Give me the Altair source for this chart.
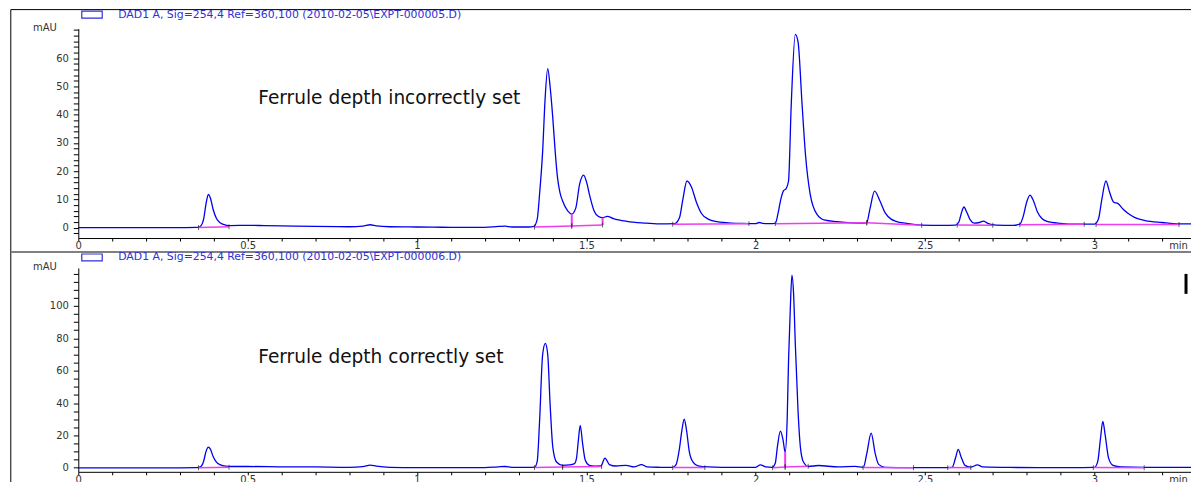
import altair as alt
import pandas as pd

HEADER_TOP = "DAD1 A, Sig=254,4 Ref=360,100 (2010-02-05\\EXPT-000005.D)"
HEADER_BOT = "DAD1 A, Sig=254,4 Ref=360,100 (2010-02-05\\EXPT-000006.D)"
NOTE_TOP = "Ferrule depth incorrectly set"
NOTE_BOT = "Ferrule depth correctly set"
Y_TITLE = "mAU"
X_TITLE = "min"

# ---- top chromatogram (ferrule depth incorrectly set) ----
TOP_T = [0.00, 0.10, 0.20, 0.30, 0.35, 0.36, 0.370, 0.378, 0.384, 0.390, 0.398, 0.408, 0.420, 0.435,
         0.45, 0.50, 0.55, 0.60, 0.70, 0.80, 0.84, 0.862, 0.88, 0.92, 1.00, 1.10, 1.20, 1.24, 1.26, 1.28,
         1.33, 1.345, 1.355, 1.362, 1.371, 1.378, 1.386, 1.393, 1.401, 1.408, 1.415, 1.422, 1.430, 1.445,
         1.457, 1.469, 1.480, 1.492, 1.501, 1.509, 1.523, 1.535, 1.548, 1.562, 1.58, 1.62, 1.67, 1.715,
         1.76, 1.775, 1.785, 1.797, 1.81, 1.825, 1.84, 1.86, 1.88, 1.92, 1.96, 2.00, 2.01, 2.02, 2.04,
         2.058, 2.066, 2.073, 2.082, 2.090, 2.097, 2.105, 2.117, 2.125, 2.137, 2.147, 2.161, 2.181, 2.205,
         2.24, 2.284, 2.32, 2.328, 2.338, 2.351, 2.367, 2.382, 2.40, 2.412, 2.45, 2.49, 2.55, 2.59, 2.600,
         2.607, 2.615, 2.623, 2.633, 2.645, 2.66, 2.672, 2.685, 2.71, 2.76, 2.78, 2.79, 2.800, 2.810, 2.820,
         2.832, 2.845, 2.86, 2.90, 2.95, 3.00, 3.012, 3.022, 3.034, 3.045, 3.057, 3.07, 3.085, 3.10, 3.12,
         3.15, 3.20, 3.25, 3.30]
TOP_V = [0.0, 0.0, 0.0, 0.0, 0.05, 0.4, 3.0, 9.0, 11.8, 10.5, 6.5, 3.2, 1.6, 0.9,
         0.7, 0.8, 0.7, 0.6, 0.4, 0.3, 0.5, 1.0, 0.6, 0.3, 0.2, 0.1, 0.1, 0.4, 0.5, 0.2,
         0.2, 0.4, 3.0, 12.0, 27.0, 45.0, 56.3, 50.0, 38.8, 27.0, 17.6, 12.5, 9.4, 5.9,
         4.8, 7.0, 15.3, 18.6, 16.0, 11.8, 5.9, 4.0, 3.5, 4.0, 3.2, 2.2, 1.6, 1.3,
         1.4, 3.5, 10.0, 16.5, 14.5, 9.0, 5.0, 3.0, 2.2, 1.7, 1.5, 1.4, 1.8, 1.5, 1.4,
         1.5, 5.0, 9.4, 13.0, 13.8, 16.5, 43.6, 68.5, 65.9, 43.6, 25.9, 11.8, 4.7, 2.6,
         2.1, 1.7, 1.6, 1.8, 7.0, 12.9, 9.4, 5.3, 3.0, 2.3, 1.4, 0.9, 0.8, 0.9, 2.0,
         5.0, 7.3, 5.5, 2.8, 1.6, 1.8, 2.3, 1.5, 0.9, 0.8, 1.2, 4.0, 9.0, 11.5, 9.5,
         5.5, 3.2, 2.2, 1.5, 1.2, 1.2, 3.0, 10.0, 16.5, 12.5, 9.0, 8.5, 6.5, 5.0, 3.5,
         2.5, 1.8, 1.3, 1.3]
TOP_SEG_T1 = [0.355, 1.347, 1.457, 1.755, 2.058, 2.328, 2.595, 2.78, 3.005]
TOP_SEG_V1 = [0.0, 0.2, 0.6, 1.2, 1.4, 1.7, 0.9, 1.0, 1.1]
TOP_SEG_T2 = [0.445, 1.457, 1.548, 1.98, 2.328, 2.49, 2.70, 2.97, 3.25]
TOP_SEG_V2 = [0.3, 0.6, 0.9, 1.4, 1.7, 0.8, 0.8, 1.2, 1.1]
TOP_DROP_T = [1.457, 1.548]
TOP_DROP_V1 = [4.8, 3.5]
TOP_DROP_V2 = [0.6, 0.9]

# ---- bottom chromatogram (ferrule depth correctly set) ----
BOT_T = [0.00, 0.10, 0.20, 0.30, 0.35, 0.362, 0.370, 0.377, 0.384, 0.390, 0.398, 0.408, 0.42, 0.435,
         0.45, 0.50, 0.60, 0.70, 0.80, 0.84, 0.862, 0.88, 0.92, 1.00, 1.10, 1.20, 1.24, 1.26, 1.28, 1.33,
         1.347, 1.355, 1.362, 1.371, 1.379, 1.386, 1.393, 1.401, 1.412, 1.430, 1.45, 1.465, 1.471, 1.476,
         1.482, 1.489, 1.497, 1.509, 1.525, 1.543, 1.555, 1.568, 1.587, 1.617, 1.641, 1.663, 1.680, 1.72,
         1.754, 1.765, 1.775, 1.782, 1.789, 1.796, 1.804, 1.815, 1.83, 1.86, 1.90, 1.95, 2.00, 2.014, 2.03,
         2.048, 2.058, 2.064, 2.073, 2.081, 2.087, 2.093, 2.097, 2.102, 2.107, 2.112, 2.117, 2.125, 2.132,
         2.141, 2.156, 2.185, 2.244, 2.293, 2.318, 2.328, 2.341, 2.353, 2.363, 2.382, 2.45, 2.55, 2.58,
         2.59, 2.598, 2.606, 2.618, 2.635, 2.655, 2.67, 2.75, 2.90, 3.00, 3.01, 3.018, 3.025, 3.032, 3.042,
         3.055, 3.08, 3.15, 3.30]
BOT_V = [0.0, 0.0, 0.0, 0.0, 0.1, 0.8, 4.0, 10.0, 12.8, 11.5, 7.0, 3.5, 1.8, 1.0,
         0.8, 0.8, 0.6, 0.5, 0.3, 0.7, 1.6, 1.0, 0.3, 0.1, 0.1, 0.1, 0.6, 0.8, 0.3, 0.2,
         0.4, 4.0, 29.0, 70.0, 76.9, 70.0, 39.5, 12.8, 3.6, 1.5, 1.8, 2.6, 6.0, 16.0,
         26.2, 14.9, 4.6, 1.5, 1.0, 1.1, 6.0, 2.0, 1.1, 1.5, 0.5, 2.0, 0.5, 0.3,
         0.2, 2.0, 12.0, 23.0, 30.0, 23.0, 10.0, 3.5, 1.2, 0.5, 0.3, 0.3, 0.3, 1.8, 0.5,
         0.2, 3.0, 12.8, 22.7, 17.0, 9.7, 30.0, 66.0, 97.0, 119.0, 107.0, 76.5, 35.4, 12.8,
         3.6, 0.8, 1.4, 0.5, 0.9, 0.3, 8.7, 21.4, 8.7, 2.1, 0.3, 0.1, 0.1, 0.3,
         6.0, 11.4, 7.0, 1.5, 0.4, 1.8, 0.5, 0.2, 0.1, 0.2, 4.0, 18.0, 28.7, 20.0, 6.0,
         1.5, 0.5, 0.2, 0.2]
BOT_SEG_T1 = [0.355, 1.347, 1.430, 1.755, 2.050, 2.087, 2.317, 2.567, 2.997]
BOT_SEG_V1 = [0.0, 0.1, 0.5, 0.1, 0.0, 0.5, 0.1, 0.1, 0.1]
BOT_SEG_T2 = [0.445, 1.430, 1.545, 1.850, 2.087, 2.155, 2.466, 2.635, 3.147]
BOT_SEG_V2 = [0.3, 0.5, 0.8, 0.1, 0.5, 0.9, 0.0, 0.1, 0.0]
BOT_DROP_T = [2.087]
BOT_DROP_V1 = [9.7]
BOT_DROP_V2 = [0.5]

X_TICKS = [0, 0.1, 0.2, 0.3, 0.4, 0.5, 0.6, 0.7, 0.8, 0.9, 1, 1.1, 1.2, 1.3, 1.4, 1.5, 1.6, 1.7,
           1.8, 1.9, 2, 2.1, 2.2, 2.3, 2.4, 2.5, 2.6, 2.7, 2.8, 2.9, 3, 3.1, 3.2]
TOP_Y_TICKS = list(range(-2, 71, 2))
BOT_Y_TICKS = list(range(0, 121, 5))

W = 1121
H_TOP = 210
BOT_YDOM = [-2.5, 123.5]
H_BOT = (BOT_YDOM[1] - BOT_YDOM[0]) * 1.623
SPACING = 30
TRACE = "#0000ee"
MAGENTA = "#f03cf0"
HEAD_BLUE = "#3030d8"
FONT = "DejaVu Sans"


def panel(t, v, s_t1, s_v1, s_t2, s_v2, d_t, d_v1, d_v2, ydom, yticks, ymajor, ymax_label,
          header, note, header_y, note_y, height, extra_layers):
    x_axis = alt.Axis(values=X_TICKS, tickSize=3, labelPadding=0, labelFlush=False, labelOverlap=False,
                      labelExpr="abs(datum.value*2 - round(datum.value*2)) < 0.001 ? format(datum.value, '~g') : ''",
                      title=X_TITLE, titleX=1103, titleY=8, titleAlign="center", titleBaseline="middle",
                      titleFontWeight="normal", titleFontSize=10, titleColor="#333", grid=False)
    y_axis = alt.Axis(values=yticks, tickSize=5, labelPadding=5, labelOverlap=False,
                      labelExpr=f"(datum.value % {ymajor} == 0 && datum.value >= 0 && datum.value <= {ymax_label}) ? format(datum.value, 'd') : ''",
                      title=Y_TITLE, titleAngle=0, titleX=-22, titleY=-1, titleAlign="right",
                      titleBaseline="middle", titleFontWeight="normal", titleFontSize=10, titleColor="#333",
                      grid=False)
    xs = alt.Scale(domain=[0, 3.3], nice=False, zero=False)
    ys = alt.Scale(domain=ydom, nice=False, zero=False)

    trace_df = pd.DataFrame({"t": t, "v": v})
    seg_df = pd.DataFrame({"t": s_t1, "v": s_v1, "t2": s_t2, "v2": s_v2})
    drop_df = pd.DataFrame({"t": d_t, "v": d_v1, "v2": d_v2})
    ev_df = pd.DataFrame({"t": s_t1 + s_t2, "v": s_v1 + s_v2})

    trace = alt.Chart(trace_df).mark_line(color=TRACE, strokeWidth=1.3, interpolate="monotone").encode(
        x=alt.X("t:Q", scale=xs, axis=x_axis), y=alt.Y("v:Q", scale=ys, axis=y_axis))
    segs = alt.Chart(seg_df).mark_rule(color=MAGENTA, strokeWidth=1.5).encode(
        x=alt.X("t:Q", scale=xs, axis=x_axis), y=alt.Y("v:Q", scale=ys, axis=y_axis), x2="t2:Q", y2="v2:Q")
    drops = alt.Chart(drop_df).mark_rule(color=MAGENTA, strokeWidth=2).encode(
        x=alt.X("t:Q", scale=xs, axis=x_axis), y=alt.Y("v:Q", scale=ys, axis=y_axis), y2="v2:Q")
    events = alt.Chart(ev_df).mark_tick(color="#222", orient="vertical", size=5, thickness=1).encode(
        x=alt.X("t:Q", scale=xs, axis=x_axis), y=alt.Y("v:Q", scale=ys, axis=y_axis))
    one = pd.DataFrame({"k": [0]})
    box = alt.Chart(one).mark_rect(fill="white", stroke=HEAD_BLUE, strokeWidth=1.2).encode(
        x=alt.value(3.5), x2=alt.value(24), y=alt.value(header_y - 3.5), y2=alt.value(header_y + 3.5))
    head = alt.Chart(one).mark_text(text=header, font=FONT, fontSize=10.9, color=HEAD_BLUE, align="left",
                                    baseline="middle").encode(x=alt.value(40), y=alt.value(header_y))
    note_txt = alt.Chart(one).mark_text(text=note, font=FONT, fontSize=18.6, color="#111", align="left",
                                        baseline="middle").encode(x=alt.value(180.5), y=alt.value(note_y))
    return alt.layer(trace, segs, drops, events, box, head, note_txt, *extra_layers).properties(
        width=W, height=height)


one = pd.DataFrame({"k": [0]})
top_border = alt.Chart(one).mark_rule(color="black", strokeWidth=1).encode(
    x=alt.value(-67.7), x2=alt.value(W), y=alt.value(-19.1))
left_border = alt.Chart(one).mark_rule(color="black", strokeWidth=1).encode(
    x=alt.value(-67.7), y=alt.value(-19.1), y2=alt.value(458))
separator = alt.Chart(one).mark_rule(color="#808080", strokeWidth=2).encode(
    x=alt.value(-67.7), x2=alt.value(W), y=alt.value(224))
right_mark = alt.Chart(one).mark_rule(color="black", strokeWidth=3).encode(
    x=alt.value(W - 10), y=alt.value(H_TOP + SPACING + 6), y2=alt.value(H_TOP + SPACING + 26))

top = panel(TOP_T, TOP_V, TOP_SEG_T1, TOP_SEG_V1, TOP_SEG_T2, TOP_SEG_V2, TOP_DROP_T, TOP_DROP_V1,
            TOP_DROP_V2, [-3.7, 70.5], TOP_Y_TICKS, 10, 60, HEADER_TOP, NOTE_TOP, -14, 70, H_TOP,
            [top_border, left_border, separator, right_mark])
bottom = panel(BOT_T, BOT_V, BOT_SEG_T1, BOT_SEG_V1, BOT_SEG_T2, BOT_SEG_V2, BOT_DROP_T, BOT_DROP_V1,
               BOT_DROP_V2, BOT_YDOM, BOT_Y_TICKS, 20, 100, HEADER_BOT, NOTE_BOT, -10.5, 89.5, H_BOT,
               [])

chart = alt.vconcat(top, bottom, spacing=SPACING, bounds="flush").properties(
    padding={"left": 1.5, "top": 0, "right": -8, "bottom": -5}
).configure(font=FONT, background="white").configure_view(stroke=None).configure_axis(
    labelFont=FONT, labelFontSize=10, labelColor="#333", titleFont=FONT, domainColor="black",
    tickColor="black", domainWidth=1, tickWidth=1)

chart.save("out.html", embed_options={"renderer": "svg", "actions": False})
